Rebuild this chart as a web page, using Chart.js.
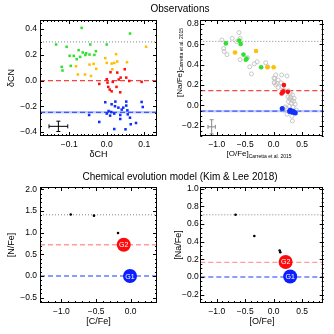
<!DOCTYPE html>
<html><head><meta charset="utf-8">
<script src="https://cdn.jsdelivr.net/npm/chart.js@4.4.1/dist/chart.umd.min.js"></script>
<style>
html,body{margin:0;padding:0;background:#fff;}
#wrap{position:relative;width:334px;height:334px;overflow:hidden;font-family:'Liberation Sans',Arial,Helvetica,sans-serif;}
canvas{position:absolute;}
.ttl{position:absolute;left:0;width:360px;text-align:center;font-size:10px;line-height:12px;color:#000;white-space:nowrap;}
</style></head><body>
<div id="wrap">
<canvas id="c1" width="167" height="167" style="left:0;top:0"></canvas>
<canvas id="c2" width="167" height="167" style="left:167px;top:0"></canvas>
<canvas id="c3" width="167" height="167" style="left:0;top:167px"></canvas>
<canvas id="c4" width="167" height="167" style="left:167px;top:167px"></canvas>
<div class="ttl" style="top:3px">Observations</div>
<div class="ttl" style="top:170.5px">Chemical evolution model (Kim &amp; Lee 2018)</div>
</div>
<script>
// ---------------- DATA ----------------
// Panel 1: dCH vs dCN
const p1GreenX = [-0.067, 0.062, -0.135, -0.044, 0.000, -0.107, -0.075, -0.064, -0.055, -0.057, -0.046, -0.029, -0.033, -0.099, -0.088, -0.071, -0.080, -0.096, -0.120, -0.118];
const p1GreenY = [0.409, 0.365, 0.280, 0.280, 0.280, 0.262, 0.236, 0.218, 0.212, 0.199, 0.202, 0.228, 0.199, 0.192, 0.192, 0.184, 0.166, 0.114, 0.106, 0.078];
const p1OrangeX = [0.105, 0.025, -0.004, 0.000, 0.013, 0.020, 0.028, 0.054, -0.046, -0.035, -0.082, -0.028, -0.077, -0.058, -0.042, 0.015];
const p1OrangeY = [0.262, 0.205, 0.174, 0.137, 0.132, 0.137, 0.148, 0.142, 0.124, 0.130, 0.111, 0.091, 0.047, 0.047, 0.036, 0.088];
const p1RedX = [0.010, 0.028, 0.048, 0.037, 0.052, -0.020, 0.000, 0.002, 0.016, 0.032, 0.060, 0.093, 0.004, 0.008, 0.013, 0.026, 0.036];
const p1RedY = [0.065, 0.062, 0.088, 0.023, 0.023, -0.026, 0.010, -0.016, -0.010, 0.008, -0.003, -0.010, -0.049, -0.070, -0.083, -0.049, -0.091];
const p1BlueX = [-0.004, 0.023, 0.052, 0.093, 0.096, 0.013, 0.022, 0.031, 0.044, 0.052, 0.040, 0.055, 0.005, 0.012, 0.000, 0.009, 0.020, 0.036, 0.036, 0.056, 0.062, 0.078, 0.064, -0.020, -0.047, 0.020, 0.050];
const p1BlueY = [-0.168, -0.163, -0.163, -0.166, -0.205, -0.184, -0.199, -0.210, -0.210, -0.194, -0.225, -0.231, -0.236, -0.244, -0.256, -0.272, -0.256, -0.267, -0.298, -0.262, -0.288, -0.329, -0.339, -0.321, -0.267, -0.376, -0.378];
const p1Lines = [0.30, 0.0, -0.246];           // dotted grey, red dashed, blue dashed
const p1ErrX = [-0.129], p1ErrY = [-0.355], p1ErrDX = [0.025], p1ErrDY = [0.04];
const p1XTicks = [-0.1, 0.0, 0.1];
const p1YTicks = [-0.4, -0.2, 0.0, 0.2, 0.4];

// Panel 2: [O/Fe] vs [Na/Fe] (Carretta et al. 2015)
const p2GreyX = [-0.61, -0.91, -0.73, -0.65, -0.59, -0.88, -0.87, -0.82, -0.59, -0.46, -0.42, -0.34, -0.29, -0.14, -0.10, -0.39, 0.005, 0.01,
                 0.035, 0.14, 0.235, 0.02, 0.08, 0.01, 0.06, 0.13, 0.035, 0.08, 0.15, 0.18, 0.26, 0.29, 0.33, 0.25, 0.28, 0.32, 0.26, 0.35, 0.31, 0.38, 0.28, 0.34, 0.20, 0.235, 0.32, 0.33, 0.40, 0.18, 0.30, 0.36, 0.22];
const p2GreyY = [0.716, 0.644, 0.66, 0.627, 0.66, 0.56, 0.53, 0.50, 0.45, 0.47, 0.38, 0.41, 0.43, 0.42, 0.38, 0.31, 0.27, 0.227,
                 0.30, 0.30, 0.29, 0.266, 0.25, 0.223, 0.217, 0.223, 0.203, 0.177, 0.183, 0.15, 0.144, 0.118, 0.105, 0.085, 0.065, 0.052, 0.04, 0.04, 0.02, 0.013, -0.007, -0.014, -0.014, -0.086, -0.105, -0.152, -0.046, -0.046, 0.08, 0.07, -0.03];
const p2GreenX = [-0.84, -0.606, -0.58, -0.53, -0.49, -0.476, -0.22];
const p2GreenY = [0.61, 0.638, 0.605, 0.50, 0.45, 0.46, 0.375];
const p2OrangeX = [-0.68, -0.31, -0.11, 0.0];
const p2OrangeY = [0.52, 0.536, 0.375, 0.375];
const p2RedX = [0.18, 0.16, 0.25, 0.14, 0.17];
const p2RedY = [0.20, 0.13, 0.134, 0.118, 0.14];
const p2BlueX = [0.15, 0.29, 0.33, 0.38, 0.28, 0.31, 0.35];
const p2BlueY = [-0.03, -0.046, -0.066, -0.073, -0.06, -0.055, -0.06];
const p2Lines = [0.63, 0.145, -0.056];
const p2ErrX = [-1.09], p2ErrY = [-0.21], p2ErrDX = [0.065], p2ErrDY = [0.07];
const p2XTicks = [-1.0, -0.5, 0.0, 0.5];
const p2YTicks = [-0.2, 0.0, 0.2, 0.4, 0.6, 0.8];

// Panel 3: model [C/Fe] vs [N/Fe]
const p3DotX = [-0.866, -0.53, -0.183];
const p3DotY = [1.416, 1.39, 0.99];
const p3G2 = [-0.10, 0.72];
const p3G1 = [-0.01, 0.0];
const p3Lines = [1.41, 0.72, 0.0];
const p3XTicks = [-1.0, -0.5, 0.0];
const p3YTicks = [-0.5, 0.0, 0.5, 1.0, 1.5, 2.0];

// Panel 4: model [O/Fe] vs [Na/Fe]
const p4DotX = [-0.67, -0.34, 0.106, 0.117];
const p4DotY = [0.705, 0.464, 0.30, 0.28];
const p4G2 = [0.21, 0.17];
const p4G1 = [0.29, 0.005];
const p4Lines = [0.705, 0.166, 0.0];
const p4XTicks = [-1.0, -0.5, 0.0, 0.5];
const p4YTicks = [-0.2, 0.0, 0.2, 0.4, 0.6, 0.8, 1.0];

// ---------------- HELPERS ----------------
const FONT = "'Liberation Sans', Arial, Helvetica, sans-serif";
Chart.defaults.font.family = FONT;
const GREEN = '#2fe02f', ORANGE = '#ffbf00', RED = '#ff1010', BLUE = '#1030ff';

const zip = (xs, ys) => xs.map((x, i) => ({x: x, y: ys[i]}));
const fmt = v => (v < -1e-9 ? '\u2212' : '') + Math.abs(v).toFixed(1);

function pts(xs, ys, color, style, r, extra) {
  return Object.assign({data: zip(xs, ys), backgroundColor: color, borderColor: color, borderWidth: 0,
    pointStyle: style, pointRadius: r, pointHoverRadius: r}, extra || {});
}
function hline(y, x0, x1, color, width, dash) {
  return {data: [{x: x0, y: y}, {x: x1, y: y}], showLine: true, borderColor: color, borderWidth: width,
    borderDash: dash, pointRadius: 0, fill: false, backgroundColor: color};
}

const frameTicks = {
  id: 'frameTicks',
  afterDatasetsDraw(chart, args, o) {
    const {ctx, chartArea: a, scales: {x, y}} = chart;
    ctx.save();
    ctx.strokeStyle = '#000'; ctx.lineWidth = 1;
    ctx.strokeRect(Math.round(a.left) + 0.5, Math.round(a.top) + 0.5, Math.round(a.right - a.left) - 1, Math.round(a.bottom - a.top) - 1);
    ctx.beginPath();
    const L = 4, l = 2;
    const doX = (v, len) => { const px = Math.round(x.getPixelForValue(v)) + 0.5;
      ctx.moveTo(px, a.bottom); ctx.lineTo(px, a.bottom - len); ctx.moveTo(px, a.top); ctx.lineTo(px, a.top + len); };
    const doY = (v, len) => { const py = Math.round(y.getPixelForValue(v)) + 0.5;
      ctx.moveTo(a.left, py); ctx.lineTo(a.left + len, py); ctx.moveTo(a.right, py); ctx.lineTo(a.right - len, py); };
    for (let k = Math.ceil(x.min / o.xm - 1e-6); k * o.xm <= x.max + 1e-9; k++) doX(k * o.xm, l);
    for (let k = Math.ceil(y.min / o.ym - 1e-6); k * o.ym <= y.max + 1e-9; k++) doY(k * o.ym, l);
    x.ticks.forEach(t => doX(t.value, L));
    y.ticks.forEach(t => doY(t.value, L));
    ctx.stroke();
    ctx.restore();
  }
};

const errBars = {
  id: 'errBars',
  afterDatasetsDraw(chart, args, o) {
    if (!o || !o.xs) return;
    const {ctx, scales: {x, y}} = chart;
    ctx.save(); ctx.strokeStyle = o.color; ctx.lineWidth = 1; ctx.beginPath();
    o.xs.forEach((xv, i) => {
      const cx = x.getPixelForValue(xv), cy = y.getPixelForValue(o.ys[i]);
      const x0 = x.getPixelForValue(xv - o.dxs[i]), x1 = x.getPixelForValue(xv + o.dxs[i]);
      const y0 = y.getPixelForValue(o.ys[i] - o.dys[i]), y1 = y.getPixelForValue(o.ys[i] + o.dys[i]);
      ctx.moveTo(x0, cy); ctx.lineTo(x1, cy);
      ctx.moveTo(x0, cy - 2); ctx.lineTo(x0, cy + 2); ctx.moveTo(x1, cy - 2); ctx.lineTo(x1, cy + 2);
      ctx.moveTo(cx, y0); ctx.lineTo(cx, y1);
      ctx.moveTo(cx - 2, y0); ctx.lineTo(cx + 2, y0); ctx.moveTo(cx - 2, y1); ctx.lineTo(cx + 2, y1);
    });
    ctx.stroke(); ctx.restore();
  }
};

const gLabels = {
  id: 'gLabels',
  afterDatasetsDraw(chart) {
    const {ctx} = chart;
    ctx.save(); ctx.fillStyle = '#fff'; ctx.font = '7px ' + FONT; ctx.textAlign = 'center'; ctx.textBaseline = 'middle';
    chart.data.datasets.forEach((ds, i) => {
      if (!ds.gLabel) return;
      const el = chart.getDatasetMeta(i).data[0];
      ctx.fillText(ds.gLabel, el.x, el.y + 0.5);
    });
    ctx.restore();
  }
};

const subTitles = {
  id: 'subTitles',
  afterDraw(chart, args, o) {
    if (!o || !o.x) return;
    const {ctx, chartArea: a} = chart;
    ctx.save(); ctx.fillStyle = '#000'; ctx.textAlign = 'left'; ctx.textBaseline = 'middle';
    // x title
    ctx.font = o.mainSize + 'px ' + FONT; const w1 = ctx.measureText(o.x[0]).width;
    ctx.font = o.subSize + 'px ' + FONT; const w2 = ctx.measureText(o.x[1]).width;
    const sx = (a.left + a.right) / 2 - (w1 + w2) / 2 - 3, sy = chart.height - 13;
    ctx.font = o.mainSize + 'px ' + FONT; ctx.fillText(o.x[0], sx, sy);
    ctx.font = o.subSize + 'px ' + FONT; ctx.fillText(o.x[1], sx + w1, sy + 3);
    // y title (rotated)
    ctx.translate(12.3, a.bottom - 39);
    ctx.rotate(-Math.PI / 2);
    ctx.font = o.mainSize + 'px ' + FONT; const v1 = ctx.measureText(o.y[0]).width;
    ctx.fillText(o.y[0], 0, 0);
    ctx.font = o.subSize + 'px ' + FONT; ctx.fillText(o.y[1], v1, 2.6);
    ctx.restore();
  }
};

function makeChart(id, c) {
  const tickFont = {size: 8.5, family: FONT};
  return new Chart(document.getElementById(id), {
    type: 'scatter',
    data: {datasets: c.datasets},
    plugins: [frameTicks, errBars, gLabels, subTitles],
    options: {
      responsive: false, animation: false, devicePixelRatio: 1, events: [],
      layout: {padding: {left: 0, top: 20, right: c.padRight, bottom: 0}},
      plugins: {legend: {display: false}, tooltip: {enabled: false},
        frameTicks: {xm: c.xMinor, ym: c.yMinor}, errBars: c.err || {}, subTitles: c.sub || {}},
      scales: {
        x: {type: 'linear', min: c.xr[0], max: c.xr[1],
          afterBuildTicks: s => { s.ticks = c.xt.map(v => ({value: v})); },
          afterFit: s => { s.height = 31; s.paddingLeft = 0; s.paddingRight = 0; },
          ticks: {callback: v => fmt(v), font: tickFont, color: '#000', padding: c.xPad, maxRotation: 0, autoSkip: false},
          grid: {display: false, drawTicks: false}, border: {display: false},
          title: {display: !!c.xTitle, text: c.xTitle || '', color: '#000', font: {size: 9, family: FONT}, padding: {top: 0, bottom: 7.5}}},
        y: {type: 'linear', min: c.yr[0], max: c.yr[1],
          afterBuildTicks: s => { s.ticks = c.yt.map(v => ({value: v})); },
          afterFit: s => { s.width = c.yWidth; s.paddingTop = 0; s.paddingBottom = 0; },
          ticks: {callback: v => fmt(v), font: tickFont, color: '#000', padding: c.yPad, autoSkip: false},
          grid: {display: false, drawTicks: false}, border: {display: false},
          title: {display: !!c.yTitle, text: c.yTitle || '', color: '#000', font: {size: 9, family: FONT}, padding: {top: 6.6, bottom: 0}}}
      }
    }
  });
}

const GREYDOT = 'rgba(120,120,120,0.9)';

// Panel 1
makeChart('c1', {
  xr: [-0.178, 0.134], yr: [-0.43, 0.47], xt: p1XTicks, yt: p1YTicks, xMinor: 0.01, yMinor: 0.05,
  yWidth: 40, padRight: 10, xPad: 4, yPad: 3, xTitle: '\u03B4CH', yTitle: '\u03B4CN',
  err: {xs: p1ErrX, ys: p1ErrY, dxs: p1ErrDX, dys: p1ErrDY, color: '#000'},
  datasets: [
    pts(p1GreenX, p1GreenY, GREEN, 'rect', 1.8),
    pts(p1OrangeX, p1OrangeY, ORANGE, 'rect', 1.8),
    pts(p1RedX, p1RedY, RED, 'rect', 1.8),
    pts(p1BlueX, p1BlueY, BLUE, 'rect', 1.8),
    hline(p1Lines[0], -0.178, 0.134, GREYDOT, 1, [1, 2]),
    hline(p1Lines[1], -0.178, 0.134, 'rgba(255,30,30,0.85)', 1.2, [5, 3]),
    hline(p1Lines[2], -0.178, 0.134, 'rgba(30,60,255,0.8)', 1.2, [5, 3]),
    hline(p1Lines[2], -0.178, 0.134, 'rgba(140,160,255,0.55)', 2.4, [])
  ]
});

// Panel 2
makeChart('c2', {
  xr: [-1.29, 0.88], yr: [-0.30, 0.84], xt: p2XTicks, yt: p2YTicks, xMinor: 0.1, yMinor: 0.05,
  yWidth: 33.3, padRight: 10.3, xPad: 4, yPad: 1.5,
  sub: {x: ['[O/Fe]', 'Carretta et al. 2015'], y: ['[Na/Fe]', 'Carretta et al. 2015'], mainSize: 8, subSize: 5},
  err: {xs: p2ErrX, ys: p2ErrY, dxs: p2ErrDX, dys: p2ErrDY, color: '#888'},
  datasets: [
    pts(p2GreenX, p2GreenY, GREEN, 'circle', 2.3),
    pts(p2OrangeX, p2OrangeY, ORANGE, 'circle', 2.3),
    pts(p2RedX, p2RedY, RED, 'circle', 2.3),
    pts(p2BlueX, p2BlueY, BLUE, 'circle', 2.5),
    pts(p2GreyX, p2GreyY, 'rgba(0,0,0,0)', 'circle', 2, {borderColor: '#c2c2c2', borderWidth: 0.9}),
    hline(p2Lines[0], -1.29, 0.88, GREYDOT, 1, [1, 2]),
    hline(p2Lines[1], -1.29, 0.88, 'rgba(255,30,30,0.85)', 1.2, [5, 3]),
    hline(p2Lines[2], -1.29, 0.88, 'rgba(30,60,255,0.8)', 1.2, [5, 3]),
    hline(p2Lines[2], -1.29, 0.88, 'rgba(140,160,255,0.55)', 2.4, [])
  ]
});

// Panel 3
makeChart('c3', {
  xr: [-1.31, 0.38], yr: [-0.62, 2.05], xt: p3XTicks, yt: p3YTicks, xMinor: 0.1, yMinor: 0.1,
  yWidth: 40, padRight: 10, xPad: 4, yPad: 3, xTitle: '[C/Fe]', yTitle: '[N/Fe]',
  datasets: [
    pts([p3G1[0]], [p3G1[1]], '#0a1eff', 'circle', 7, {gLabel: 'G1'}),
    pts([p3G2[0]], [p3G2[1]], '#ff0a0a', 'circle', 7, {gLabel: 'G2'}),
    pts(p3DotX, p3DotY, '#000', 'circle', 1.3),
    hline(p3Lines[0], -1.31, 0.38, GREYDOT, 1, [1, 2]),
    hline(p3Lines[1], -1.31, 0.38, 'rgba(255,90,90,0.6)', 1.4, [5, 3]),
    hline(p3Lines[2], -1.31, 0.38, 'rgba(50,80,255,0.75)', 1.4, [5, 3])
  ]
});

// Panel 4
makeChart('c4', {
  xr: [-1.29, 0.88], yr: [-0.295, 1.02], xt: p4XTicks, yt: p4YTicks, xMinor: 0.1, yMinor: 0.05,
  yWidth: 33.3, padRight: 10.3, xPad: 4, yPad: 1.5, xTitle: '[O/Fe]', yTitle: '[Na/Fe]',
  datasets: [
    pts([p4G1[0]], [p4G1[1]], '#0a1eff', 'circle', 7, {gLabel: 'G1'}),
    pts([p4G2[0]], [p4G2[1]], '#ff0a0a', 'circle', 7, {gLabel: 'G2'}),
    pts(p4DotX, p4DotY, '#000', 'circle', 1.3),
    hline(p4Lines[0], -1.29, 0.88, GREYDOT, 1, [1, 2]),
    hline(p4Lines[1], -1.29, 0.88, 'rgba(255,90,90,0.6)', 1.4, [5, 3]),
    hline(p4Lines[2], -1.29, 0.88, 'rgba(50,80,255,0.75)', 1.4, [5, 3])
  ]
});
</script>
</body></html>
